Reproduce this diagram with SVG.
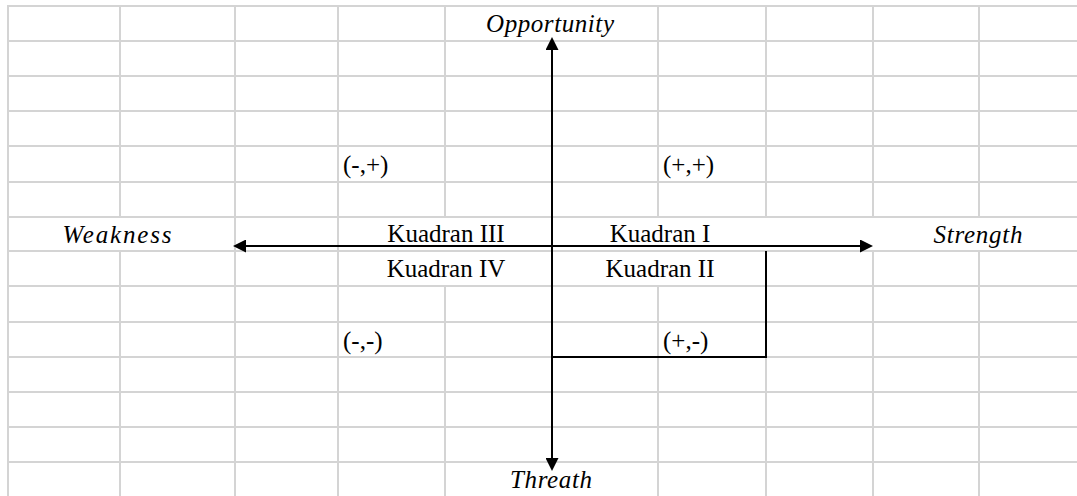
<svg xmlns="http://www.w3.org/2000/svg" width="1077" height="496" viewBox="0 0 1077 496">
  <style>
    .grid line { stroke: #d4d4d4; stroke-width: 2; }
    .axis { stroke: #000; stroke-width: 2; fill: none; }
    .lbl { font-family: "Liberation Serif", "Times New Roman", serif; font-size: 25px; fill: #000; }
    .it { font-style: italic; }
    .mid { text-anchor: middle; }
  </style>
  <defs>
    <marker id="head" viewBox="0 0 13 13" refX="0" refY="6.5" markerWidth="13" markerHeight="13" markerUnits="userSpaceOnUse" orient="auto-start-reverse">
      <path d="M0,0 L13,6.5 L0,13 Z" fill="#000"/>
    </marker>
  </defs>
  <rect width="1077" height="496" fill="#fff"/>

  <!-- spreadsheet grid -->
  <g class="grid">
    <line x1="8" y1="6" x2="1077" y2="6"/>
    <line x1="8" y1="41" x2="1077" y2="41"/>
    <line x1="8" y1="76" x2="1077" y2="76"/>
    <line x1="8" y1="111" x2="1077" y2="111"/>
    <line x1="8" y1="146" x2="1077" y2="146"/>
    <line x1="8" y1="182" x2="1077" y2="182"/>
    <line x1="8" y1="217" x2="1077" y2="217"/>
    <line x1="8" y1="251" x2="1077" y2="251"/>
    <line x1="8" y1="286" x2="1077" y2="286"/>
    <line x1="8" y1="322" x2="1077" y2="322"/>
    <line x1="8" y1="357" x2="1077" y2="357"/>
    <line x1="8" y1="392" x2="1077" y2="392"/>
    <line x1="8" y1="427" x2="1077" y2="427"/>
    <line x1="8" y1="462" x2="1077" y2="462"/>

    <line x1="8" y1="5" x2="8" y2="496"/>
    <line x1="120" y1="5" x2="120" y2="217"/>
    <line x1="120" y1="251" x2="120" y2="496"/>
    <line x1="235" y1="5" x2="235" y2="496"/>
    <line x1="338" y1="5" x2="338" y2="496"/>
    <line x1="445" y1="5" x2="445" y2="217"/>
    <line x1="445" y1="286" x2="445" y2="496"/>
    <line x1="658" y1="5" x2="658" y2="217"/>
    <line x1="658" y1="286" x2="658" y2="496"/>
    <line x1="766" y1="5" x2="766" y2="217"/>
    <line x1="766" y1="286" x2="766" y2="496"/>
    <line x1="873" y1="5" x2="873" y2="217"/>
    <line x1="873" y1="251" x2="873" y2="496"/>
    <line x1="979" y1="5" x2="979" y2="217"/>
    <line x1="979" y1="251" x2="979" y2="496"/>
  </g>

  <!-- axes and bracket -->
  <g id="connectors">
    <line class="axis" x1="552" y1="458" x2="552" y2="50" marker-start="url(#head)" marker-end="url(#head)"/>
    <line class="axis" x1="246" y1="246" x2="860" y2="246" marker-start="url(#head)" marker-end="url(#head)"/>
    <polyline class="axis" points="552,357 766,357 766,251"/>
  </g>

  <g id="opportunity"><text class="lbl it mid" x="550" y="32" textLength="128" lengthAdjust="spacing">Opportunity</text></g>
  <g id="threath"><text class="lbl it mid" x="551" y="488" textLength="82" lengthAdjust="spacing">Threath</text></g>
  <g id="weakness"><text class="lbl it mid" x="117" y="243" textLength="109" lengthAdjust="spacing">Weakness</text></g>
  <g id="strength"><text class="lbl it mid" x="978" y="243" textLength="89" lengthAdjust="spacing">Strength</text></g>

  <g id="q3"><text class="lbl mid" x="446" y="242">Kuadran III</text></g>
  <g id="q1"><text class="lbl mid" x="660" y="242">Kuadran I</text></g>
  <g id="q4"><text class="lbl mid" x="446" y="277">Kuadran IV</text></g>
  <g id="q2"><text class="lbl mid" x="660" y="277">Kuadran II</text></g>

  <g id="sign-mp"><text class="lbl" x="343" y="173">(-,+)</text></g>
  <g id="sign-pp"><text class="lbl" x="663" y="173">(+,+)</text></g>
  <g id="sign-mm"><text class="lbl" x="343" y="349">(-,-)</text></g>
  <g id="sign-pm"><text class="lbl" x="663" y="349">(+,-)</text></g>
</svg>
